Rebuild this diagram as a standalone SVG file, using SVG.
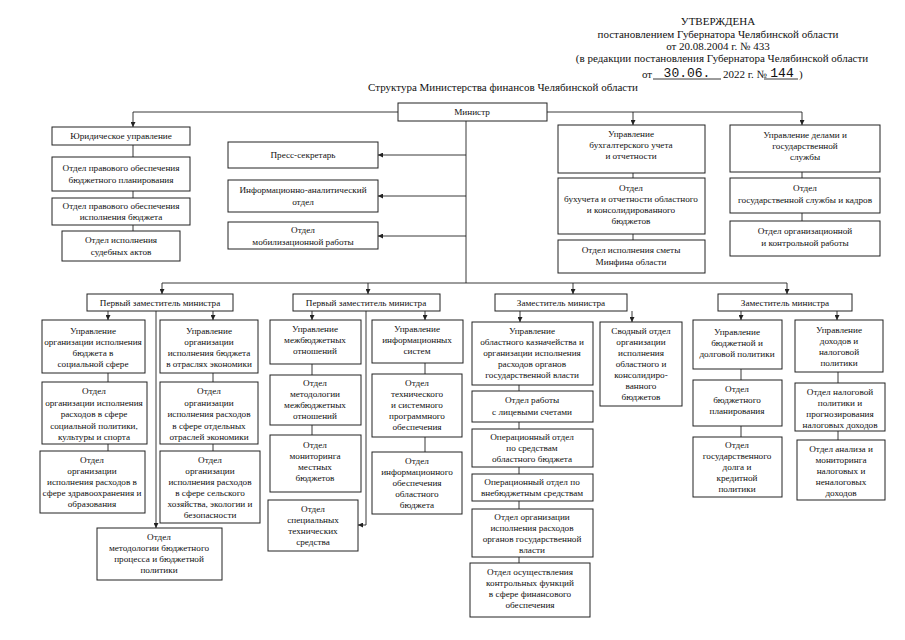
<svg xmlns="http://www.w3.org/2000/svg" width="905" height="640" viewBox="0 0 905 640">
<defs>
<marker id="ah" viewBox="0 0 6 6" refX="6" refY="3" markerWidth="5" markerHeight="5" orient="auto" markerUnits="userSpaceOnUse"><path d="M0,0L6,3L0,6z" fill="#222"/></marker>
<style>
.b{fill:#fff;stroke:#222;stroke-width:1}
.t{font-family:"Liberation Serif","Times New Roman",serif;font-size:9.2px;fill:#111;text-anchor:middle}
.h{font-family:"Liberation Serif","Times New Roman",serif;font-size:11px;fill:#111;text-anchor:middle}
.m{font-family:"Liberation Mono","Courier New",monospace;font-size:13px;fill:#111;text-anchor:middle}
.c{stroke:#222;stroke-width:0.9;fill:none}
.a{stroke:#222;stroke-width:0.9;fill:none;marker-end:url(#ah)}
</style>
</defs>
<rect width="905" height="640" fill="#fff"/>
<g id="header">
<text class="h" x="718" y="25">УТВЕРЖДЕНА</text>
<text class="h" x="718" y="38">постановлением Губернатора Челябинской области</text>
<text class="h" x="718" y="50">от 20.08.2004 г. № 433</text>
<text class="h" x="722" y="62">(в редакции постановления Губернатора Челябинской области</text>
<text class="h" x="642" y="78" style="text-anchor:start">от</text>
<line class="c" x1="653" y1="79" x2="721" y2="79"/>
<text class="m" x="687" y="77">30.06.</text>
<text class="h" x="723" y="78" style="text-anchor:start">2022 г. №</text>
<line class="c" x1="764" y1="79" x2="798" y2="79"/>
<text class="m" x="782" y="77">144</text>
<text class="h" x="799" y="78" style="text-anchor:start">)</text>
<text class="h" x="503" y="91">Структура Министерства финансов Челябинской области</text>
</g>
<g id="connectors">
<polyline class="a" points="398,112 133,112 133,127"/>
<polyline class="c" points="547,112 802,112"/>
<line class="a" x1="633" y1="112" x2="633" y2="125"/>
<line class="a" x1="802" y1="112" x2="802" y2="125"/>
<line class="c" x1="466" y1="121" x2="466" y2="283"/>
<line class="a" x1="466" y1="155" x2="378" y2="155"/>
<line class="a" x1="466" y1="196" x2="378" y2="196"/>
<line class="a" x1="466" y1="236" x2="378" y2="236"/>
<line class="c" x1="133" y1="145" x2="133" y2="157"/>
<line class="c" x1="133" y1="191" x2="133" y2="198"/>
<line class="c" x1="133" y1="225" x2="133" y2="231"/>
<line class="c" x1="633" y1="173" x2="633" y2="178"/>
<line class="c" x1="633" y1="234" x2="633" y2="240"/>
<line class="c" x1="802" y1="172" x2="802" y2="178"/>
<line class="c" x1="802" y1="213" x2="802" y2="221"/>
<line class="c" x1="162" y1="283" x2="787" y2="283"/>
<line class="a" x1="162" y1="283" x2="162" y2="294"/>
<line class="a" x1="368" y1="283" x2="368" y2="294"/>
<line class="a" x1="573" y1="283" x2="573" y2="294"/>
<line class="a" x1="787" y1="283" x2="787" y2="294"/>
<line class="a" x1="156" y1="311" x2="156" y2="528"/>
<line class="a" x1="108" y1="311" x2="108" y2="320"/>
<line class="a" x1="213" y1="311" x2="213" y2="320"/>
<line class="c" x1="108" y1="373" x2="108" y2="382"/>
<line class="c" x1="108" y1="444" x2="108" y2="451"/>
<line class="c" x1="213" y1="373" x2="213" y2="382"/>
<line class="c" x1="213" y1="444" x2="213" y2="451"/>
<polyline class="a" points="366,311 366,525 358,525"/>
<line class="a" x1="312" y1="311" x2="312" y2="320"/>
<line class="a" x1="425" y1="311" x2="425" y2="320"/>
<line class="c" x1="312" y1="364" x2="312" y2="375"/>
<line class="c" x1="312" y1="425" x2="312" y2="435"/>
<line class="c" x1="425" y1="363" x2="425" y2="374"/>
<line class="c" x1="425" y1="437" x2="425" y2="452"/>
<line class="a" x1="520" y1="311" x2="520" y2="322"/>
<line class="a" x1="632" y1="311" x2="632" y2="322"/>
<line class="c" x1="519" y1="385" x2="519" y2="391"/>
<line class="c" x1="519" y1="422" x2="519" y2="429"/>
<line class="c" x1="519" y1="467" x2="519" y2="474"/>
<line class="c" x1="519" y1="501" x2="519" y2="509"/>
<line class="c" x1="519" y1="557" x2="519" y2="563"/>
<line class="a" x1="741" y1="311" x2="741" y2="320"/>
<line class="a" x1="837" y1="311" x2="837" y2="320"/>
<line class="c" x1="741" y1="369" x2="741" y2="380"/>
<line class="c" x1="741" y1="426" x2="741" y2="437"/>
<line class="c" x1="838" y1="372" x2="838" y2="383"/>
<line class="c" x1="838" y1="431" x2="838" y2="440"/>
</g>
<g id="minister"><rect class="b" x="398" y="103" width="149" height="18"/><text class="t" x="472" y="115">Министр</text></g>
<g id="yur1"><rect class="b" x="52" y="127" width="138" height="18"/><text class="t" x="121" y="139">Юридическое управление</text></g>
<g id="yur2"><rect class="b" x="52" y="157" width="138" height="34"/><text class="t"><tspan x="121" y="171">Отдел правового обеспечения</tspan><tspan x="121" y="183">бюджетного планирования</tspan></text></g>
<g id="yur3"><rect class="b" x="52" y="198" width="138" height="27"/><text class="t"><tspan x="121" y="209">Отдел правового обеспечения</tspan><tspan x="121" y="220">исполнения бюджета</tspan></text></g>
<g id="yur4"><rect class="b" x="62" y="231" width="118" height="30"/><text class="t"><tspan x="121" y="243">Отдел исполнения</tspan><tspan x="121" y="255">судебных актов</tspan></text></g>
<g id="press"><rect class="b" x="228" y="142" width="150" height="26"/><text class="t" x="303" y="158">Пресс-секретарь</text></g>
<g id="info"><rect class="b" x="228" y="180" width="150" height="32"/><text class="t"><tspan x="303" y="193">Информационно-аналитический</tspan><tspan x="303" y="205">отдел</tspan></text></g>
<g id="mob"><rect class="b" x="228" y="222" width="150" height="27"/><text class="t"><tspan x="303" y="233">Отдел</tspan><tspan x="303" y="245">мобилизационной работы</tspan></text></g>
<g id="buh1"><rect class="b" x="558" y="125" width="147" height="48"/><text class="t"><tspan x="631" y="137">Управление</tspan><tspan x="631" y="148">бухгалтерского учета</tspan><tspan x="631" y="159">и отчетности</tspan></text></g>
<g id="buh2"><rect class="b" x="558" y="178" width="147" height="56"/><text class="t"><tspan x="631" y="191">Отдел</tspan><tspan x="631" y="202">бухучета и отчетности областного</tspan><tspan x="631" y="213">и консолидированного</tspan><tspan x="631" y="224">бюджетов</tspan></text></g>
<g id="buh3"><rect class="b" x="558" y="240" width="147" height="33"/><text class="t"><tspan x="631" y="253">Отдел исполнения сметы</tspan><tspan x="631" y="265">Минфина области</tspan></text></g>
<g id="del1"><rect class="b" x="730" y="125" width="150" height="47"/><text class="t"><tspan x="805" y="138">Управление делами и</tspan><tspan x="805" y="149">государственной</tspan><tspan x="805" y="160">службы</tspan></text></g>
<g id="del2"><rect class="b" x="730" y="178" width="150" height="35"/><text class="t"><tspan x="805" y="191">Отдел</tspan><tspan x="805" y="203">государственной службы и кадров</tspan></text></g>
<g id="del3"><rect class="b" x="730" y="221" width="150" height="35"/><text class="t"><tspan x="805" y="234">Отдел организационной</tspan><tspan x="805" y="246">и контрольной работы</tspan></text></g>
<g id="dep1"><rect class="b" x="87" y="294" width="146" height="17"/><text class="t" x="160" y="306">Первый заместитель министра</text></g>
<g id="dep2"><rect class="b" x="293" y="294" width="147" height="17"/><text class="t" x="366" y="306">Первый заместитель министра</text></g>
<g id="dep3"><rect class="b" x="495" y="294" width="132" height="17"/><text class="t" x="561" y="306">Заместитель министра</text></g>
<g id="dep4"><rect class="b" x="718" y="294" width="134" height="17"/><text class="t" x="785" y="306">Заместитель министра</text></g>
<g id="l1"><rect class="b" x="42" y="320" width="103" height="53"/><text class="t"><tspan x="93" y="334">Управление</tspan><tspan x="93" y="345">организации исполнения</tspan><tspan x="93" y="356">бюджета в</tspan><tspan x="93" y="367">социальной сфере</tspan></text></g>
<g id="l2"><rect class="b" x="160" y="320" width="98" height="53"/><text class="t"><tspan x="209" y="334">Управление</tspan><tspan x="209" y="345">организации</tspan><tspan x="209" y="356">исполнения бюджета</tspan><tspan x="209" y="367">в отраслях экономики</tspan></text></g>
<g id="l3"><rect class="b" x="42" y="382" width="105" height="62"/><text class="t"><tspan x="94" y="394">Отдел</tspan><tspan x="94" y="405.5">организации исполнения</tspan><tspan x="94" y="417">расходов в сфере</tspan><tspan x="94" y="428.5">социальной политики,</tspan><tspan x="94" y="440">культуры и спорта</tspan></text></g>
<g id="l4"><rect class="b" x="160" y="382" width="98" height="62"/><text class="t"><tspan x="209" y="394">Отдел</tspan><tspan x="209" y="405.5">организации</tspan><tspan x="209" y="417">исполнения расходов</tspan><tspan x="209" y="428.5">в сфере отдельных</tspan><tspan x="209" y="440">отраслей экономики</tspan></text></g>
<g id="l5"><rect class="b" x="40" y="451" width="105" height="62"/><text class="t"><tspan x="92" y="463">Отдел</tspan><tspan x="92" y="474">организации</tspan><tspan x="92" y="485">исполнения расходов в</tspan><tspan x="92" y="496">сфере здравоохранения и</tspan><tspan x="92" y="507">образования</tspan></text></g>
<g id="l6"><rect class="b" x="160" y="451" width="100" height="72"/><text class="t"><tspan x="210" y="463">Отдел</tspan><tspan x="210" y="474">организации</tspan><tspan x="210" y="485">исполнения расходов</tspan><tspan x="210" y="496">в сфере сельского</tspan><tspan x="210" y="507">хозяйства, экологии и</tspan><tspan x="210" y="518">безопасности</tspan></text></g>
<g id="l7"><rect class="b" x="97" y="528" width="125" height="52"/><text class="t"><tspan x="159" y="540">Отдел</tspan><tspan x="159" y="551">методологии бюджетного</tspan><tspan x="159" y="562">процесса и бюджетной</tspan><tspan x="159" y="573">политики</tspan></text></g>
<g id="m1"><rect class="b" x="270" y="320" width="91" height="44"/><text class="t"><tspan x="315" y="332">Управление</tspan><tspan x="315" y="343">межбюджетных</tspan><tspan x="315" y="354">отношений</tspan></text></g>
<g id="m2"><rect class="b" x="372" y="320" width="91" height="43"/><text class="t"><tspan x="417" y="332">Управление</tspan><tspan x="417" y="343">информационных</tspan><tspan x="417" y="354">систем</tspan></text></g>
<g id="m3"><rect class="b" x="270" y="375" width="91" height="50"/><text class="t"><tspan x="315" y="386">Отдел</tspan><tspan x="315" y="397">методологии</tspan><tspan x="315" y="408">межбюджетных</tspan><tspan x="315" y="419">отношений</tspan></text></g>
<g id="m4"><rect class="b" x="372" y="374" width="90" height="63"/><text class="t"><tspan x="417" y="386">Отдел</tspan><tspan x="417" y="397">технического</tspan><tspan x="417" y="408">и системного</tspan><tspan x="417" y="419">программного</tspan><tspan x="417" y="430">обеспечения</tspan></text></g>
<g id="m5"><rect class="b" x="270" y="435" width="91" height="57"/><text class="t"><tspan x="315" y="448">Отдел</tspan><tspan x="315" y="459">мониторинга</tspan><tspan x="315" y="470">местных</tspan><tspan x="315" y="481">бюджетов</tspan></text></g>
<g id="m6"><rect class="b" x="372" y="452" width="90" height="62"/><text class="t"><tspan x="417" y="464">Отдел</tspan><tspan x="417" y="475">информационного</tspan><tspan x="417" y="486">обеспечения</tspan><tspan x="417" y="497">областного</tspan><tspan x="417" y="508">бюджета</tspan></text></g>
<g id="m7"><rect class="b" x="268" y="500" width="90" height="51"/><text class="t"><tspan x="313" y="512">Отдел</tspan><tspan x="313" y="523">специальных</tspan><tspan x="313" y="534">технических</tspan><tspan x="313" y="545">средства</tspan></text></g>
<g id="r1"><rect class="b" x="472" y="322" width="121" height="63"/><text class="t"><tspan x="532" y="334">Управление</tspan><tspan x="532" y="345">областного казначейства и</tspan><tspan x="532" y="356">организации  исполнения</tspan><tspan x="532" y="367">расходов органов</tspan><tspan x="532" y="378">государственной власти</tspan></text></g>
<g id="r2"><rect class="b" x="600" y="322" width="82" height="84"/><text class="t"><tspan x="641" y="334">Сводный отдел</tspan><tspan x="641" y="345">организации</tspan><tspan x="641" y="356">исполнения</tspan><tspan x="641" y="367">областного и</tspan><tspan x="641" y="378">консолидиро-</tspan><tspan x="641" y="389">ванного</tspan><tspan x="641" y="400">бюджетов</tspan></text></g>
<g id="r3"><rect class="b" x="472" y="391" width="121" height="31"/><text class="t"><tspan x="532" y="403">Отдел работы</tspan><tspan x="532" y="415">с лицевыми счетами</tspan></text></g>
<g id="r4"><rect class="b" x="472" y="429" width="121" height="38"/><text class="t"><tspan x="532" y="440">Операционный отдел</tspan><tspan x="532" y="451">по средствам</tspan><tspan x="532" y="462">областного бюджета</tspan></text></g>
<g id="r5"><rect class="b" x="472" y="474" width="121" height="27"/><text class="t"><tspan x="532" y="485">Операционный отдел по</tspan><tspan x="532" y="496">внебюджетным средствам</tspan></text></g>
<g id="r6"><rect class="b" x="472" y="509" width="121" height="48"/><text class="t"><tspan x="532" y="520">Отдел организации</tspan><tspan x="532" y="531">исполнения расходов</tspan><tspan x="532" y="542">органов  государственной</tspan><tspan x="532" y="553">власти</tspan></text></g>
<g id="r7"><rect class="b" x="470" y="563" width="120" height="54"/><text class="t"><tspan x="530" y="575">Отдел осуществления</tspan><tspan x="530" y="586">контрольных функций</tspan><tspan x="530" y="597">в сфере финансового</tspan><tspan x="530" y="608">обеспечения</tspan></text></g>
<g id="t1"><rect class="b" x="693" y="320" width="89" height="49"/><text class="t"><tspan x="737" y="335">Управление</tspan><tspan x="737" y="346">бюджетной и</tspan><tspan x="737" y="357">долговой политики</tspan></text></g>
<g id="t2"><rect class="b" x="795" y="320" width="88" height="52"/><text class="t"><tspan x="839" y="333">Управление</tspan><tspan x="839" y="344">доходов и</tspan><tspan x="839" y="355">налоговой</tspan><tspan x="839" y="366">политики</tspan></text></g>
<g id="t3"><rect class="b" x="693" y="380" width="89" height="46"/><text class="t"><tspan x="737" y="392">Отдел</tspan><tspan x="737" y="403">бюджетного</tspan><tspan x="737" y="414">планирования</tspan></text></g>
<g id="t4"><rect class="b" x="795" y="383" width="90" height="48"/><text class="t"><tspan x="840" y="395">Отдел налоговой</tspan><tspan x="840" y="406">политики и</tspan><tspan x="840" y="417">прогнозирования</tspan><tspan x="840" y="428">налоговых доходов</tspan></text></g>
<g id="t5"><rect class="b" x="693" y="437" width="89" height="60"/><text class="t"><tspan x="737" y="448">Отдел</tspan><tspan x="737" y="459">государственного</tspan><tspan x="737" y="470">долга и</tspan><tspan x="737" y="481">кредитной</tspan><tspan x="737" y="492">политики</tspan></text></g>
<g id="t6"><rect class="b" x="797" y="440" width="88" height="60"/><text class="t"><tspan x="841" y="452">Отдел анализа и</tspan><tspan x="841" y="463">мониторинга</tspan><tspan x="841" y="474">налоговых и</tspan><tspan x="841" y="485">неналоговых</tspan><tspan x="841" y="496">доходов</tspan></text></g>
</svg>
